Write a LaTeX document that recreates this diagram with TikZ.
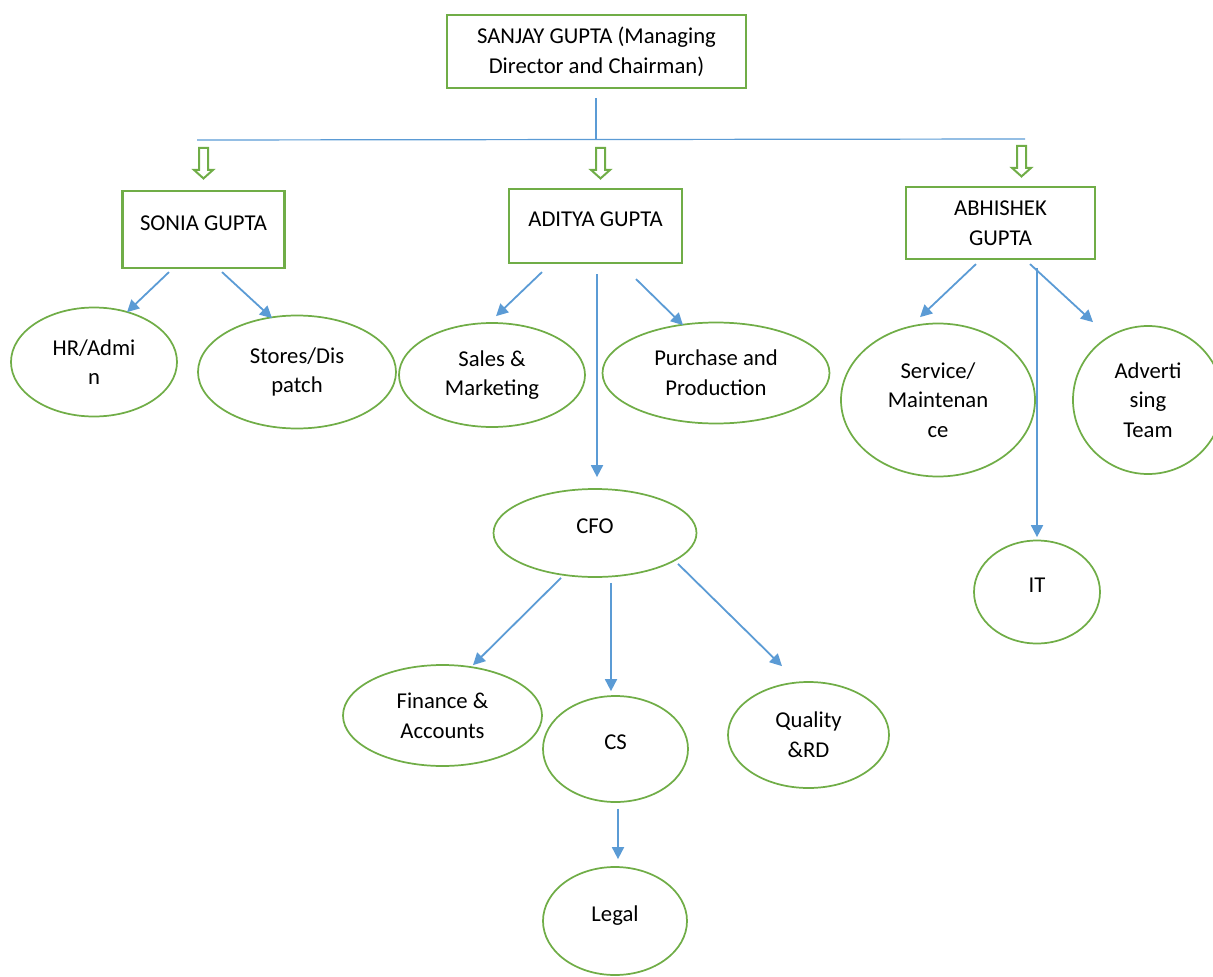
\documentclass[tikz,border=0pt]{standalone}
\usepackage{fontspec}
\setmainfont{Carlito}
\usetikzlibrary{arrows.meta,calc,shapes.geometric}
\definecolor{leafgreen}{HTML}{70AD47}
\definecolor{linkblue}{HTML}{5B9BD5}

\begin{document}
\begin{tikzpicture}[
  x=0.75pt, y=-0.75pt,
  every node/.style={font=\fontsize{17pt}{22.2pt}\selectfont, align=center},
  person/.style={rectangle, draw=leafgreen, line width=1.6pt, inner sep=0pt},
  dept/.style={ellipse, draw=leafgreen, line width=1.3pt, inner sep=0pt},
  lift/.style={text height=11pt, text depth=10pt},
  arr/.style={-{Triangle[length=9pt,width=9pt]}, line width=1.35pt, linkblue},
  bar/.style={line width=0.9pt, linkblue},
  hollow/.style={draw=leafgreen, line width=1.5pt, line join=miter}
]
\useasboundingbox (0,0) rectangle (1213,977);

% people
\node[person, minimum width=224.25pt, minimum height=54.75pt] (md) at (596.5,51.5)
  {SANJAY GUPTA (Managing\\Director and Chairman)};
\node[person, lift, minimum width=121.5pt, minimum height=57.75pt] (sonia) at (203.5,229.5) {SONIA GUPTA};
\node[person, lift, minimum width=129.75pt, minimum height=55.5pt] (aditya) at (595.5,226) {ADITYA GUPTA};
\node[person, minimum width=141.75pt, minimum height=54pt] (abhishek) at (1000.5,223) {ABHISHEK\\GUPTA};

% departments
\node[dept, minimum width=124.5pt, minimum height=81.75pt] (hr) at (94,362) {HR/Admi\\n};
\node[dept, minimum width=148.5pt, minimum height=84.75pt] (stores) at (297,372) {Stores/Dis\\patch};
\node[dept, minimum width=139.5pt, minimum height=78pt] (sales) at (492,375) {Sales \&\\Marketing};
\node[dept, minimum width=170.25pt, minimum height=75.75pt] (purchase) at (716,373) {Purchase and\\Production};
\node[dept, minimum width=145.5pt, minimum height=114.75pt] (service) at (938,400) {Service/\\Maintenan\\ce};
\node[dept, minimum width=112.5pt, minimum height=111pt] (advert) at (1148,400) {Adverti\\sing\\Team};
\node[dept, lift, minimum width=94.5pt, minimum height=77.25pt] (it) at (1037,592) {IT};
\node[dept, lift, minimum width=152.25pt, minimum height=66pt] (cfo) at (595,533) {CFO};
\node[dept, minimum width=149.25pt, minimum height=75.75pt] (finance) at (442.5,715.5) {Finance \&\\Accounts};
\node[dept, lift, minimum width=108.75pt, minimum height=79.5pt] (cs) at (615.5,749) {CS};
\node[dept, minimum width=120.75pt, minimum height=79.5pt] (quality) at (808.5,735) {Quality\\\&RD};
\node[dept, lift, minimum width=108pt, minimum height=81pt] (legal) at (615,921) {Legal};

% top bar
\coordinate (barL) at (197,140);
\coordinate (barM) at (596,139);
\coordinate (barR) at (1025,139);
\draw[bar] ($(md.south)+(-0.5,9)$) -- (barM);
\draw[bar] (barL) -- (barR);

% hollow arrows
\foreach \b/\dx/\dy in {sonia/-4.5/-42, aditya/0.5/-40, abhishek/16.5/-40}
  \draw[hollow] ($(\b.north)+(\dx,\dy)$) -- ++(9,0) -- ++(0,22) -- ++(5,0)
    -- ++(-9.5,8.5) -- ++(-9.5,-8.5) -- ++(5,0) -- cycle;

% reporting lines
\draw[arr] ($(sonia.south)+(-34.5,3)$) -- ($(hr.north)+(33,5.5)$);
\draw[arr] ($(sonia.south)+(18.5,3)$) -- ($(stores.north)+(-25,3.5)$);
\draw[arr] ($(aditya.south)+(-53.5,8)$) -- ($(sales.north)+(4,-6)$);
\draw[arr] ($(aditya.south)+(40.5,15)$) -- ($(purchase.north)+(-33,3.5)$);
\draw[arr] ($(aditya.south)+(1.5,10)$) -- ($(cfo.north)+(2,-11)$);
\draw[arr] ($(abhishek.south)+(-24.5,4)$) -- ($(service.north)+(-18,-5.5)$);
\draw[arr] ($(abhishek.south)+(29.5,4)$) -- ($(advert.north)+(-55,-3)$);
\draw[arr] ($(abhishek.south)+(36.5,8)$) -- ($(it.north)+(0,-2.5)$);
\draw[arr] ($(cfo.south)+(-34,0)$) -- ($(finance.north)+(30.5,1)$);
\draw[arr] ($(cfo.south)+(16,5)$) -- ($(cs.north)+(-4.5,-4)$);
\draw[arr] ($(cfo.south)+(83,-14)$) -- ($(quality.north)+(-26.5,-15)$);
\draw[arr] ($(cs.south)+(2.5,6)$) -- ($(legal.north)+(3,-7)$);

\end{tikzpicture}
\end{document}
